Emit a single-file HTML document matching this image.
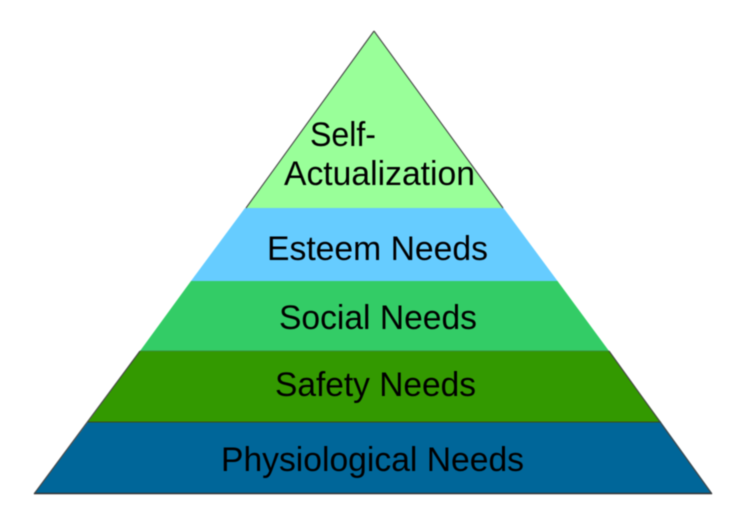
<!DOCTYPE html>
<html><head><meta charset="utf-8"><style>
html,body{margin:0;padding:0;background:#fff;width:750px;height:531px;overflow:hidden}
svg{display:block;filter:blur(0.45px)}
text{font-family:"Liberation Sans",sans-serif;font-size:34px;fill:#000}
</style></head><body>
<svg width="750" height="531" viewBox="0 0 750 531" xmlns="http://www.w3.org/2000/svg">
<polygon points="374,31 246,208 503,208" fill="#99ff99"/>
<polygon points="245,208 503.5,208 557.5,281 191,281" fill="#66ccff"/>
<polygon points="191,281 557.5,281 609,351 140,351" fill="#33cc66"/>
<polygon points="140,351 609,351 661,422 88,422" fill="#339900"/>
<polygon points="88,422 661,422 712,493 35,493" fill="#006699"/>
<line x1="140" y1="351" x2="609" y2="351" stroke="#3a8f3a" stroke-width="1"/>
<line x1="88" y1="422" x2="661" y2="422" stroke="#3d4a1a" stroke-width="1"/>
<line x1="34" y1="493.5" x2="712" y2="493.5" stroke="#333" stroke-width="1.4"/>
<line x1="374" y1="31" x2="246" y2="208" stroke="#444" stroke-width="1.1"/>
<line x1="374" y1="31" x2="503" y2="208" stroke="#444" stroke-width="1.1"/>
<line x1="140" y1="351" x2="34" y2="494" stroke="#444" stroke-width="1.1"/>
<line x1="609" y1="351" x2="712" y2="494" stroke="#444" stroke-width="1.1"/>
<text x="310" y="146" textLength="66" lengthAdjust="spacingAndGlyphs">Self-</text>
<text x="284" y="185" textLength="191" lengthAdjust="spacingAndGlyphs">Actualization</text>
<text x="267" y="260" textLength="221" lengthAdjust="spacingAndGlyphs">Esteem Needs</text>
<text x="279" y="329" textLength="198" lengthAdjust="spacingAndGlyphs">Social Needs</text>
<text x="275" y="396" textLength="201" lengthAdjust="spacingAndGlyphs">Safety Needs</text>
<text x="221" y="471" textLength="303" lengthAdjust="spacingAndGlyphs">Physiological Needs</text>
</svg>
</body></html>
